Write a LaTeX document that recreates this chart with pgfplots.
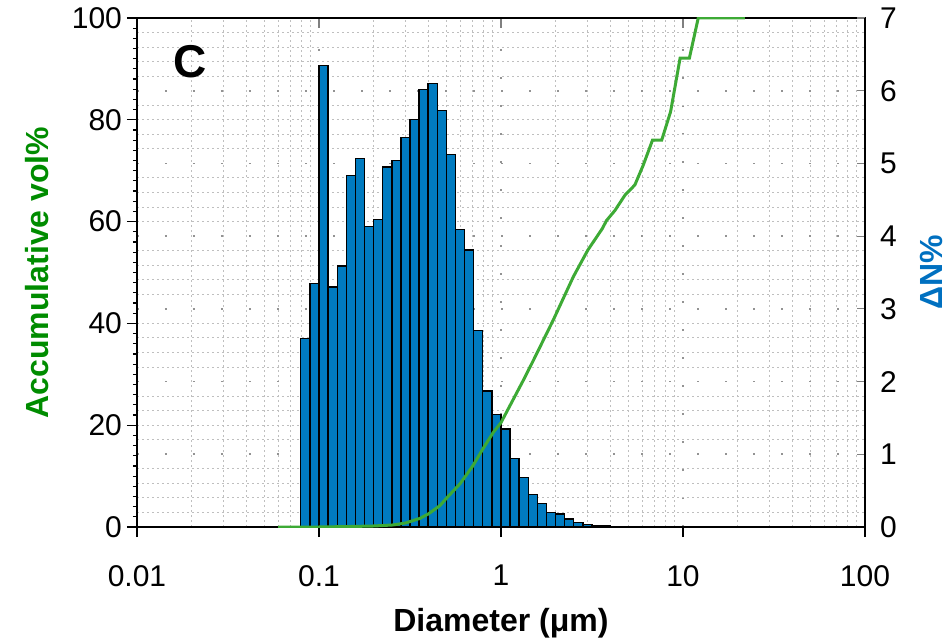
\documentclass[border=0pt]{standalone}
\usepackage{pgfplots}
\pgfplotsset{compat=1.18}
\usepackage{fontspec}
\setmainfont{Liberation Sans}
\definecolor{barblue}{RGB}{0,123,192}
\definecolor{linegreen}{RGB}{61,170,53}
\definecolor{labgreen}{RGB}{0,140,0}
\definecolor{labblue}{RGB}{0,112,192}
\begin{document}
\begin{tikzpicture}
\useasboundingbox (-68.5pt,-58pt) rectangle (405pt,263.5pt);
% grid axis
\begin{axis}[
  xmode=log, xmin=0.01, xmax=100,
  scale only axis, width=364pt, height=254.5pt,
  at={(0pt,0pt)}, anchor=south west,
  xtick={0.01,0.1,1,10,100},
  ymin=0, ymax=7, ytick={0,...,7}, minor y tick num=4,
  minor xtick={0.02,0.03,0.04,0.05,0.06,0.07,0.08,0.09,0.2,0.3,0.4,0.5,0.6,0.7,0.8,0.9,2,3,4,5,6,7,8,9,20,30,40,50,60,70,80,90},
  xminorgrids, yminorgrids, xmajorgrids, ymajorgrids,
  xticklabels={}, yticklabels={},
  major tick length=0pt, minor tick length=0pt,
  axis line style={black, line width=0.8pt},
  minor grid style={gray!50, line width=0.5pt, dash pattern=on 0.9pt off 1.6pt},
  major grid style={gray!85, line width=0.8pt, dash pattern=on 1pt off 13pt},
]
\end{axis}
% top ticks
\begin{axis}[
  xmode=log, xmin=0.01, xmax=100, ymin=0, ymax=1,
  scale only axis, width=364pt, height=254.5pt,
  at={(0pt,0pt)}, anchor=south west,
  axis x line*=top, axis y line=none,
  xtick={0.01,0.1,1,10,100}, xticklabels={}, xminorticks=false,
  tick align=inside, major tick length=5pt,
  xtick style={gray, line width=0.6pt},
  axis line style={black, line width=0.8pt},
]
\end{axis}
% bars axis (right)
\begin{axis}[
  xmode=log, xmin=0.01, xmax=100,
  scale only axis, width=364pt, height=254.5pt,
  at={(0pt,0pt)}, anchor=south west,
  /pgf/number format/assume math mode=true,
  tick label style={font=\fontsize{15}{18}\selectfont},
  yticklabel style={xshift=4pt},
  ymin=0, ymax=7, ytick={0,...,7},
  axis y line*=right, axis x line=none,
  tick align=inside, major tick length=4pt,
  ytick style={gray, line width=0.6pt},
  axis line style={black, line width=0.8pt},
  ylabel={\bfseries ΔN\%},
  ylabel style={at={(axis description cs:1.0915,0.5)}, anchor=center, font=\fontsize{16}{19}\selectfont, color=labblue},
]
\addplot[ybar interval, fill=barblue, draw=black, line width=0.7pt] coordinates {
(0.07943,2.59) (0.08913,3.35) (0.1,6.35) (0.1122,3.30) (0.1259,3.59)
(0.1413,4.83) (0.1585,5.07) (0.1778,4.13) (0.1995,4.23) (0.2239,4.95)
(0.2512,5.04) (0.2818,5.36) (0.3162,5.60) (0.3548,6.02) (0.3981,6.10)
(0.4467,5.73) (0.5012,5.12) (0.5623,4.09) (0.6310,3.81) (0.7079,2.70)
(0.7943,1.87) (0.8913,1.55) (1.0,1.35) (1.122,0.94) (1.259,0.68)
(1.413,0.45) (1.585,0.32) (1.778,0.20) (1.995,0.18) (2.239,0.11)
(2.512,0.065) (2.818,0.037) (3.162,0.023) (3.548,0.012) (3.981,0.006)
(4.467,0.003) (5.012,0)
};
\end{axis}
% line axis (left)
\begin{axis}[
  xmode=log, xmin=0.01, xmax=100,
  scale only axis, width=364pt, height=254.5pt,
  at={(0pt,0pt)}, anchor=south west,
  /pgf/number format/assume math mode=true,
  tick label style={font=\fontsize{15}{18}\selectfont},
  xticklabel style={yshift=-10.5pt},
  yticklabel style={xshift=1pt},
  log ticks with fixed point,
  xtick={0.01,0.1,1,10,100},
  ymin=0, ymax=100, ytick={0,20,...,100}, minor y tick num=9,
  axis y line*=left, axis x line*=bottom,
  tick align=outside, major tick length=5pt, minor tick length=2pt,
  xminorticks=false,
  tick style={black, line width=0.6pt},
  axis line style={black, line width=0.8pt},
  ylabel={\bfseries Accumulative vol\%},
  ylabel style={at={(axis description cs:-0.1368,0.5)}, anchor=center, font=\fontsize{16}{19}\selectfont, color=labgreen},
  xlabel={\bfseries Diameter (μm)},
  xlabel style={at={(axis description cs:0.5,-0.1886)}, anchor=center, font=\fontsize{16}{19}\selectfont},
]
\addplot[linegreen, line width=1.5pt] coordinates {
(0.0596,0) (0.1,0) (0.15,0.1) (0.2,0.2) (0.255,0.4) (0.3,0.8) (0.359,1.7)
(0.4,2.6) (0.462,4.2) (0.5,5.6) (0.596,8.5) (0.7,12.0) (0.8,15.5) (0.908,18.6)
(1.0,20.5) (1.33,28.9) (1.5,32.6) (1.94,40.7) (2.5,49.2) (3.0,54.4) (3.6,58.6)
(3.8,60.2) (4.23,62.2) (4.8,65.2) (5.44,67.2) (6.05,71.1) (6.8,76.0) (7.64,76.0)
(8.55,81.6) (9.64,92.1) (10.84,92.1) (12.13,100) (21.9,100)
};
\node[font=\fontsize{23}{26}\selectfont\bfseries] at (rel axis cs:0.0728,0.9136) {C};
\end{axis}
\end{tikzpicture}
\end{document}
